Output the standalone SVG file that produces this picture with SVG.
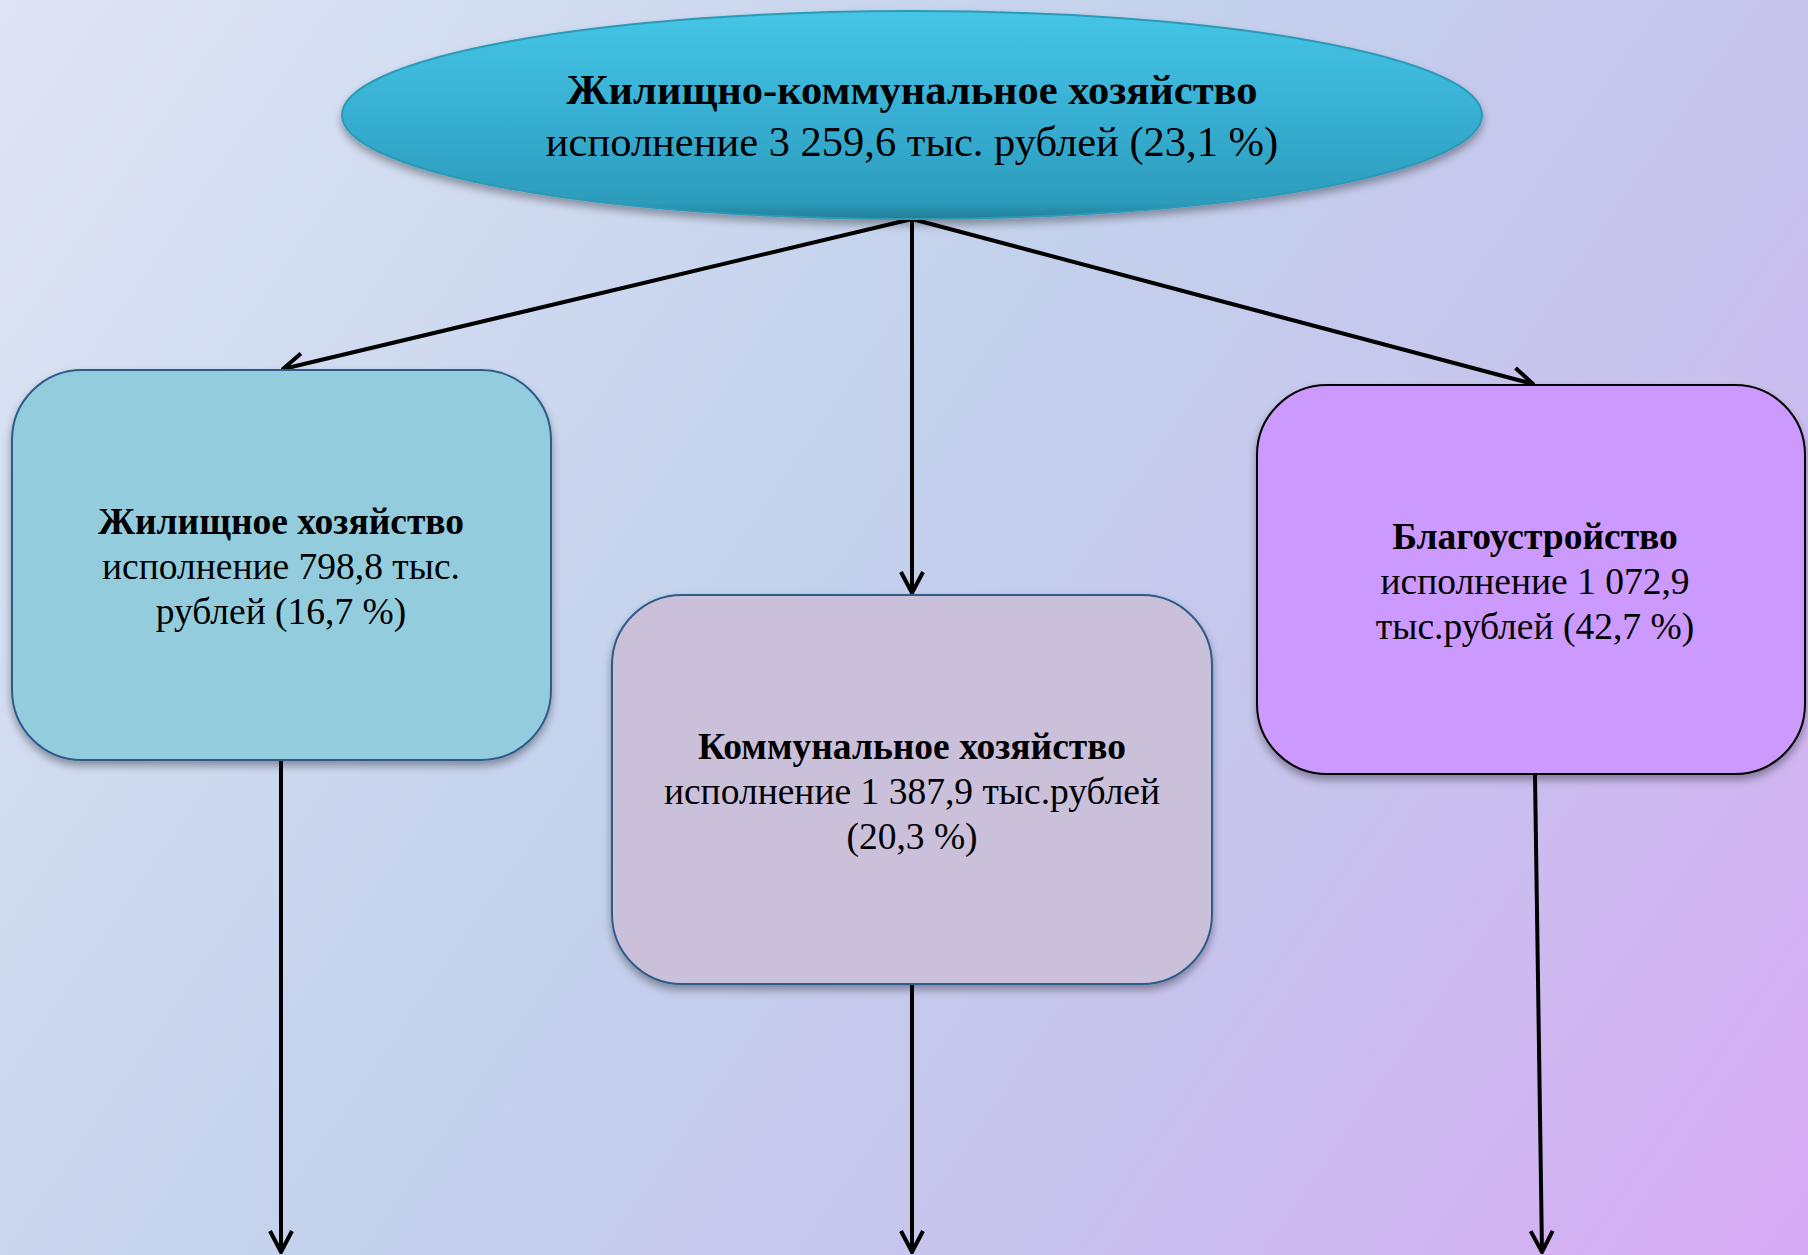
<svg xmlns="http://www.w3.org/2000/svg" width="1808" height="1255" viewBox="0 0 1808 1255">
  <defs>
    <linearGradient id="bg" x1="0" y1="0" x2="1808" y2="1255" gradientUnits="userSpaceOnUse">
      <stop offset="0" stop-color="#DEE5F4"/>
      <stop offset="0.45" stop-color="#C3D1EC"/>
      <stop offset="0.72" stop-color="#C8C2EE"/>
      <stop offset="1" stop-color="#D7AAF4"/>
    </linearGradient>
    <linearGradient id="ell" x1="0" y1="0" x2="0" y2="1">
      <stop offset="0" stop-color="#45C6E6"/>
      <stop offset="0.5" stop-color="#37AFD3"/>
      <stop offset="0.92" stop-color="#2C9CBC"/>
      <stop offset="1" stop-color="#237E98"/>
    </linearGradient>
    <filter id="sh" x="-10%" y="-10%" width="120%" height="130%">
      <feGaussianBlur in="SourceAlpha" stdDeviation="4"/>
      <feOffset dx="0" dy="5" result="b"/>
      <feComponentTransfer><feFuncA type="linear" slope="0.35"/></feComponentTransfer>
      <feMerge><feMergeNode/><feMergeNode in="SourceGraphic"/></feMerge>
    </filter>
    <marker id="arr" markerWidth="26" markerHeight="26" viewBox="-24 -13 26 26" refX="0" refY="0" orient="auto" markerUnits="userSpaceOnUse">
      <path d="M-21,-11 L0,0 L-21,11" fill="none" stroke="#000" stroke-width="4" stroke-linejoin="miter"/>
    </marker>
  </defs>
  <style>
    .t { font-family: "Liberation Serif", "Times New Roman", serif; text-anchor: middle; fill: #000; }
    .b { font-weight: bold; }
    .conn { stroke: #000; stroke-width: 4; fill: none; marker-end: url(#arr); }
    .box { stroke-width: 2; filter: url(#sh); }
  </style>
  <rect x="0" y="0" width="1808" height="1255" fill="url(#bg)"/>

  <g id="connectors">
    <line class="conn" x1="912" y1="219" x2="283" y2="369"/>
    <line class="conn" x1="912" y1="219" x2="912" y2="593"/>
    <line class="conn" x1="912" y1="219" x2="1533" y2="384"/>
    <line class="conn" x1="281" y1="760" x2="281" y2="1252"/>
    <line class="conn" x1="912" y1="984" x2="912" y2="1252"/>
    <line class="conn" x1="1535" y1="775" x2="1542" y2="1252"/>
  </g>

  <g id="node-main">
    <ellipse cx="912" cy="115" rx="570" ry="104" fill="url(#ell)" stroke="#2A9AB8" stroke-width="2" filter="url(#sh)"/>
    <text class="t b" x="912" y="104" font-size="42.5">Жилищно-коммунальное хозяйство</text>
    <text class="t" x="912" y="156" font-size="42.5">исполнение 3 259,6 тыс. рублей (23,1 %)</text>
  </g>

  <g id="node-housing">
    <rect class="box" x="12" y="370" width="539" height="390" rx="70" ry="70" fill="#93CDDD" stroke="#2E5C8A"/>
    <text class="t b" x="281" y="534" font-size="37.5">Жилищное хозяйство</text>
    <text class="t" x="281" y="579" font-size="37.5">исполнение 798,8 тыс.</text>
    <text class="t" x="281" y="624" font-size="37.5">рублей (16,7 %)</text>
  </g>

  <g id="node-communal">
    <rect class="box" x="612" y="595" width="600" height="389" rx="70" ry="70" fill="#CBC0DA" stroke="#2E5C8A"/>
    <text class="t b" x="912" y="759" font-size="37.5">Коммунальное хозяйство</text>
    <text class="t" x="912" y="804" font-size="37.5">исполнение 1 387,9 тыс.рублей</text>
    <text class="t" x="912" y="849" font-size="37.5">(20,3 %)</text>
  </g>

  <g id="node-improvement">
    <rect class="box" x="1257" y="385" width="548" height="389" rx="70" ry="70" fill="#CC99FF" stroke="#000"/>
    <text class="t b" x="1535" y="549" font-size="37.5">Благоустройство</text>
    <text class="t" x="1535" y="594" font-size="37.5">исполнение 1 072,9</text>
    <text class="t" x="1535" y="639" font-size="37.5">тыс.рублей (42,7 %)</text>
  </g>
</svg>
